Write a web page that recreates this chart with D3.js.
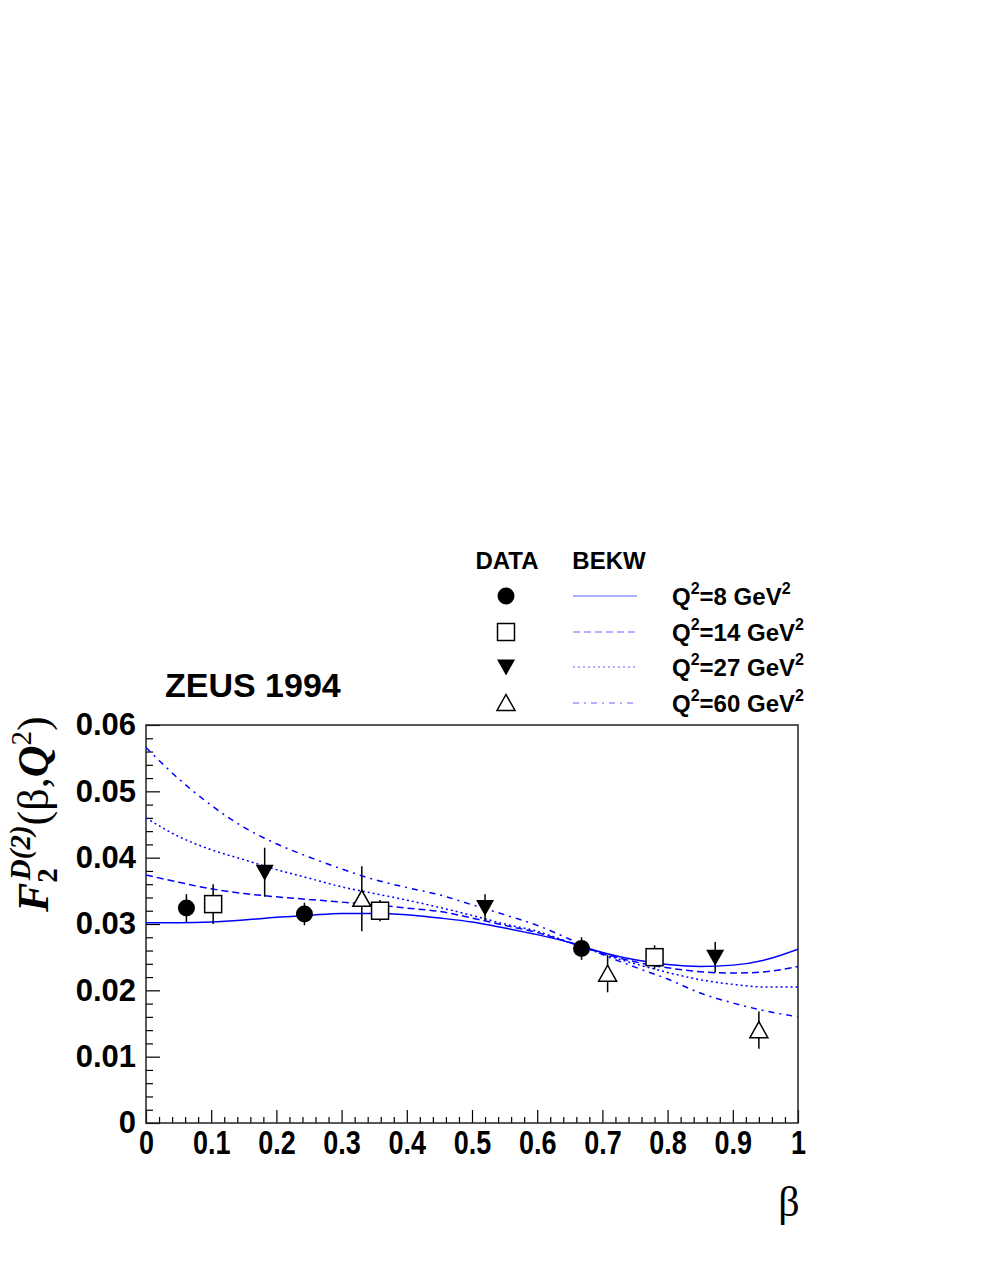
<!DOCTYPE html>
<html>
<head>
<meta charset="utf-8">
<script src="https://cdn.jsdelivr.net/npm/d3@7"></script>
<style>
  body { margin: 0; background: #fff; }
  svg { display: block; font-family: "Liberation Sans", Arial, sans-serif; }
  .tick line { stroke: #000; stroke-width: 1.2; }
  .tick text { font-weight: bold; fill: #000; }
</style>
</head>
<body>
<div id="chart"></div>
<script>
// BEKW model curves on a regular beta grid
var betaGrid = [0, 0.05, 0.1, 0.15, 0.2, 0.25, 0.3, 0.35, 0.4, 0.45, 0.5,
  0.55, 0.6, 0.65, 0.7, 0.75, 0.8, 0.85, 0.9, 0.95, 1.0];
var bekw8 = [0.0302, 0.0302, 0.0303, 0.0306, 0.0310, 0.0313, 0.0316, 0.0316, 0.0314, 0.0309, 0.0303,
  0.0294, 0.0284, 0.0272, 0.0257, 0.0246, 0.0239, 0.0236, 0.0238, 0.0246, 0.0262];
var bekw14 = [0.0374, 0.0363, 0.0353, 0.0346, 0.0341, 0.0337, 0.0333, 0.0329, 0.0324, 0.0319, 0.0309,
  0.0298, 0.0287, 0.0272, 0.0256, 0.0243, 0.0234, 0.0228, 0.0226, 0.0228, 0.0236];
var bekw27 = [0.0460, 0.0432, 0.0412, 0.0397, 0.0382, 0.0369, 0.0356, 0.0346, 0.0336, 0.0325, 0.0313,
  0.0300, 0.0289, 0.0272, 0.0255, 0.0240, 0.0227, 0.0216, 0.0209, 0.0205, 0.0205];
var bekw60 = [0.0566, 0.0519, 0.0479, 0.0446, 0.0421, 0.0401, 0.0383, 0.0367, 0.0355, 0.0344, 0.0329,
  0.0314, 0.0298, 0.0277, 0.0254, 0.0235, 0.0217, 0.0196, 0.0181, 0.0169, 0.0160];

// ZEUS 1994 data points
var beta8 = [0.062, 0.243, 0.668];
var f8 = [0.0324, 0.0315, 0.0263];
var err8 = [0.0021, 0.0017, 0.0017];
var beta14 = [0.103, 0.359, 0.780];
var f14 = [0.0330, 0.0320, 0.0250];
var err14 = [0.0030, 0.0016, 0.0018];
var beta27 = [0.182, 0.520, 0.873];
var f27 = [0.0378, 0.0325, 0.0250];
var err27 = [0.0037, 0.0020, 0.0023];
var beta60 = [0.331, 0.708, 0.940];
var f60 = [0.0338, 0.0225, 0.0140];
var err60 = [0.0049, 0.0028, 0.0028];

var xTicks = [0, 0.1, 0.2, 0.3, 0.4, 0.5, 0.6, 0.7, 0.8, 0.9, 1];
var yTicks = [0, 0.01, 0.02, 0.03, 0.04, 0.05, 0.06];
var q2Labels = ['8', '14', '27', '60'];

(function() {
  var W = 981, H = 1269;
  var plotLeft = 146, plotRight = 798, plotTop = 725, plotBottom = 1123;

  var svg = d3.select('#chart').append('svg')
    .attr('width', W)
    .attr('height', H);

  var xScale = d3.scaleLinear().domain([0, 1]).range([plotLeft, plotRight]);
  var yScale = d3.scaleLinear().domain([0, 0.06]).range([plotBottom, plotTop]);

  var minorX = d3.range(0, 51).filter(function(i) { return i % 5 !== 0; })
    .map(function(i) { return i / 50; });
  var minorY = d3.range(0, 31).filter(function(i) { return i % 5 !== 0; })
    .map(function(i) { return i * 0.002; });

  // minor ticks (inside the frame)
  svg.append('g')
    .attr('transform', 'translate(0,' + plotBottom + ')')
    .call(d3.axisBottom(xScale).tickValues(minorX).tickSize(-6).tickFormat(''))
    .call(function(g) { g.select('.domain').remove(); });
  svg.append('g')
    .attr('transform', 'translate(' + plotLeft + ',0)')
    .call(d3.axisLeft(yScale).tickValues(minorY).tickSize(-7).tickFormat(''))
    .call(function(g) { g.select('.domain').remove(); });

  // major ticks and labels
  var xAxis = svg.append('g')
    .attr('transform', 'translate(0,' + plotBottom + ')')
    .call(d3.axisBottom(xScale).tickValues(xTicks).tickSize(-13)
      .tickFormat(function(d) { return d === 0 || d === 1 ? String(d) : d3.format('.1f')(d); }));
  xAxis.select('.domain').remove();
  xAxis.selectAll('.tick text')
    .attr('font-size', 30)
    .attr('y', 0)
    .attr('dy', 0)
    .attr('transform', 'translate(0,31) scale(0.9,1.1)');

  var yAxis = svg.append('g')
    .attr('transform', 'translate(' + plotLeft + ',0)')
    .call(d3.axisLeft(yScale).tickValues(yTicks).tickSize(-14)
      .tickFormat(function(d) { return d === 0 ? '0' : d3.format('.2f')(d); }));
  yAxis.select('.domain').remove();
  yAxis.selectAll('.tick text').attr('font-size', 31).attr('x', -10);

  // frame
  svg.append('rect')
    .attr('x', plotLeft)
    .attr('y', plotTop)
    .attr('width', plotRight - plotLeft)
    .attr('height', plotBottom - plotTop)
    .attr('fill', 'none')
    .attr('stroke', '#222')
    .attr('stroke-width', 1.5);

  svg.append('defs').append('clipPath')
    .attr('id', 'plot-clip')
    .append('rect')
    .attr('x', plotLeft)
    .attr('y', plotTop)
    .attr('width', plotRight - plotLeft)
    .attr('height', plotBottom - plotTop);

  // curves
  var curveStyles = [
    { values: bekw8, dash: null },
    { values: bekw14, dash: '7,4' },
    { values: bekw27, dash: '2,3' },
    { values: bekw60, dash: '6,5,2,5' }
  ];

  var line = d3.line()
    .x(function(d) { return xScale(d[0]); })
    .y(function(d) { return yScale(d[1]); })
    .curve(d3.curveMonotoneX);

  var curveGroup = svg.append('g').attr('clip-path', 'url(#plot-clip)');
  curveStyles.forEach(function(c) {
    curveGroup.append('path')
      .datum(betaGrid.map(function(b, i) { return [b, c.values[i]]; }))
      .attr('d', line)
      .attr('fill', 'none')
      .attr('stroke', '#0000ff')
      .attr('stroke-width', 1.5)
      .attr('stroke-dasharray', c.dash);
  });

  // marker shapes
  function drawMarker(g, kind, cx, cy) {
    if (kind === 'circle') {
      g.append('circle').attr('cx', cx).attr('cy', cy).attr('r', 8.5).attr('fill', '#000');
    } else if (kind === 'square') {
      g.append('rect').attr('x', cx - 8.5).attr('y', cy - 8.5).attr('width', 17).attr('height', 17)
        .attr('fill', '#fff').attr('stroke', '#000').attr('stroke-width', 1.5);
    } else if (kind === 'down') {
      g.append('path')
        .attr('d', 'M' + (cx - 9) + ',' + (cy - 7.5) + 'L' + (cx + 9) + ',' + (cy - 7.5) + 'L' + cx + ',' + (cy + 8.5) + 'Z')
        .attr('fill', '#000');
    } else {
      g.append('path')
        .attr('d', 'M' + (cx - 9) + ',' + (cy + 7.5) + 'L' + (cx + 9) + ',' + (cy + 7.5) + 'L' + cx + ',' + (cy - 8.5) + 'Z')
        .attr('fill', '#fff').attr('stroke', '#000').attr('stroke-width', 1.5);
    }
  }

  var dataSets = [
    { kind: 'circle', beta: beta8, f: f8, err: err8 },
    { kind: 'square', beta: beta14, f: f14, err: err14 },
    { kind: 'down', beta: beta27, f: f27, err: err27 },
    { kind: 'up', beta: beta60, f: f60, err: err60 }
  ];

  var pointGroup = svg.append('g');
  dataSets.forEach(function(s) {
    s.beta.forEach(function(b, i) {
      pointGroup.append('line')
        .attr('x1', xScale(b)).attr('x2', xScale(b))
        .attr('y1', yScale(s.f[i] - s.err[i])).attr('y2', yScale(s.f[i] + s.err[i]))
        .attr('stroke', '#000').attr('stroke-width', 1.5);
      drawMarker(pointGroup, s.kind, xScale(b), yScale(s.f[i]));
    });
  });

  // titles
  svg.append('text')
    .attr('x', 165)
    .attr('y', 697)
    .attr('font-size', 34)
    .attr('font-weight', 'bold')
    .text('ZEUS 1994');

  svg.append('text')
    .attr('x', 789)
    .attr('y', 1216)
    .attr('text-anchor', 'middle')
    .attr('font-family', '"Liberation Serif", "Times New Roman", serif')
    .attr('font-size', 42)
    .text('β');

  var yTitle = svg.append('text')
    .attr('transform', 'translate(48,912) rotate(-90)')
    .attr('font-family', '"Liberation Serif", "Times New Roman", serif')
    .attr('font-size', 44);
  yTitle.append('tspan').attr('font-weight', 'bold').attr('font-style', 'italic').text('F');
  yTitle.append('tspan').attr('font-size', 29).attr('font-weight', 'bold').attr('dy', 9).text('2');
  yTitle.append('tspan').attr('font-size', 29).attr('font-weight', 'bold').attr('font-style', 'italic')
    .attr('dx', -12).attr('dy', -27).text('D(2)');
  yTitle.append('tspan').attr('dy', 18).text('(β,');
  yTitle.append('tspan').attr('font-weight', 'bold').attr('font-style', 'italic').text('Q');
  yTitle.append('tspan').attr('font-size', 29).attr('dy', -17).text('2');
  yTitle.append('tspan').attr('dy', 17).text(')');

  // legend
  var legend = svg.append('g').attr('font-weight', 'bold');
  legend.append('text').attr('x', 507).attr('y', 569).attr('text-anchor', 'middle').attr('font-size', 24).text('DATA');
  legend.append('text').attr('x', 609).attr('y', 569).attr('text-anchor', 'middle').attr('font-size', 24).text('BEKW');

  var legendY = [596, 632, 667, 703];
  dataSets.forEach(function(s, i) {
    var ly = legendY[i];
    drawMarker(legend, s.kind, 506, ly);
    legend.append('line')
      .attr('x1', 573).attr('x2', 637)
      .attr('y1', ly).attr('y2', ly)
      .attr('stroke', '#6060ff')
      .attr('stroke-width', 1)
      .attr('stroke-dasharray', curveStyles[i].dash);
    var t = legend.append('text').attr('x', 672).attr('y', ly + 9).attr('font-size', 24);
    t.append('tspan').text('Q');
    t.append('tspan').attr('font-size', 16).attr('dy', -11).text('2');
    t.append('tspan').attr('dy', 11).text('=' + q2Labels[i] + ' GeV');
    t.append('tspan').attr('font-size', 16).attr('dy', -11).text('2');
  });
})();
</script>
</body>
</html>
